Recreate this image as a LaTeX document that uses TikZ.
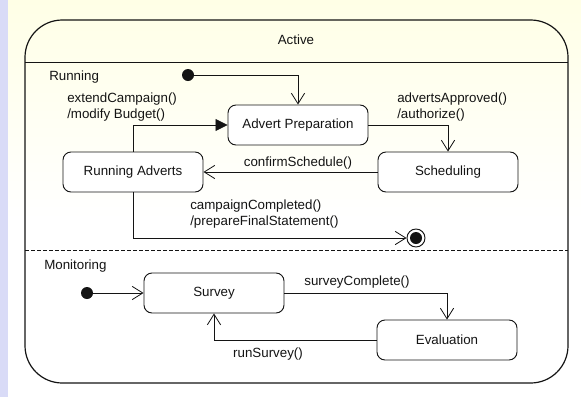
\documentclass[tikz,border=0pt]{standalone}
\usepackage{fontspec}
\setmainfont{Liberation Sans}
\usetikzlibrary{arrows.meta,positioning}
\definecolor{paper}{HTML}{FFFFE6}
\definecolor{strip}{HTML}{D9DBF7}
\definecolor{ink}{HTML}{141414}
\tikzset{
  statebox/.style={draw=ink,rounded corners=6pt,line width=0.7pt,fill=white,minimum width=105pt,minimum height=30pt,font=\fontsize{10}{12}\selectfont,text=ink},
  region/.style={font=\fontsize{10}{12}\selectfont,text=ink,anchor=west,inner sep=0pt},
  evt/.style={font=\fontsize{10}{12}\selectfont,text=ink,align=left,inner sep=0pt},
  startdot/.style={circle,fill=ink,inner sep=0pt,minimum size=9pt},
  enddot/.style={circle,draw=ink,line width=0.7pt,fill=white,inner sep=0pt,minimum size=13.5pt,path picture={\fill[ink] (path picture bounding box.center) circle (4.5pt);}},
  trans/.style={-{Straight Barb[length=8pt,width=10pt]},draw=ink,line width=0.6pt},
  transfill/.style={-{Triangle[length=9pt,width=9pt]},draw=ink,line width=0.6pt}
}
\begin{document}
\begin{tikzpicture}[x=0.75pt,y=-0.75pt]
\path[use as bounding box] (0,0) rectangle (581,397);
\fill[white] (0,0) rectangle (581,397);
\shade[top color=paper,bottom color=white] (0,0) rectangle (581,220);
\fill[strip] (0,0) rectangle (8,397);
% composite state
\draw[ink,line width=0.9pt,rounded corners=28pt] (25,20) rectangle (568,383);
\draw[ink,line width=0.7pt] (25,62) -- (568,62);
\draw[ink,line width=0.6pt,dash pattern=on 3pt off 1.5pt] (25,250) -- (568,250);
\node[region,anchor=center] (active) at (296,40) {Active};
\node[region] (running) at (49,77) {Running};
\node[region] (monitoring) at (44,266) {Monitoring};
% Running region
\node[startdot] (start1) at (188,75) {};
\node[statebox] (prep) at (298,125) {Advert Preparation};
\node[statebox] (runads) at (133,172) {Running Adverts};
\node[statebox] (sched) at (448,172) {Scheduling};
\node[enddot] (stop1) at (416,238) {};
\draw[trans] (start1) -| (prep);
\draw[trans] (prep) -| (sched);
\draw[trans] (sched) -- (runads);
\draw[transfill] (runads) |- (prep);
\draw[trans] (runads) |- (stop1);
\node[evt,anchor=west] (extend) at (67,107) {extendCampaign()\\/modify Budget()};
\node[evt,anchor=west] (approved) at (397,107) {advertsApproved()\\/authorize()};
\node[evt] (confirm) at (298,163) {confirmSchedule()};
\node[evt,anchor=west] (completed) at (190,214) {campaignCompleted()\\/prepareFinalStatement()};
% Monitoring region
\node[startdot] (start2) at (87,293) {};
\node[statebox] (survey) at (214,293) {Survey};
\node[statebox] (eval) at (447,340) {Evaluation};
\draw[trans] (start2) -- (survey);
\draw[trans] (survey) -| (eval);
\draw[trans] (eval) -| (survey);
\node[evt] (complete) at (357,282) {surveyComplete()};
\node[evt] (rerun) at (268,354) {runSurvey()};
\end{tikzpicture}
\end{document}
